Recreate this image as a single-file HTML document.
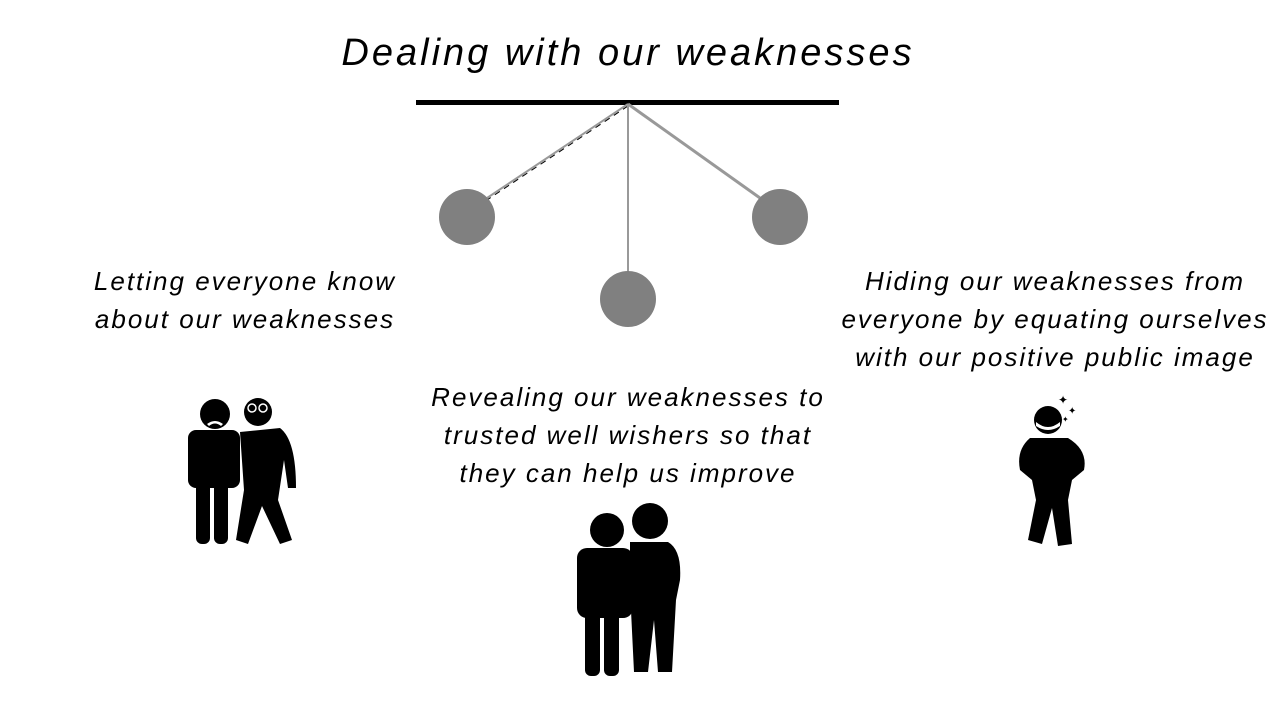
<!DOCTYPE html>
<html><head><meta charset="utf-8"><style>
body{margin:0;width:1280px;height:720px;background:#fff;position:relative;overflow:hidden;font-family:"Liberation Sans",sans-serif;color:#000}
.t{position:absolute;text-align:center;white-space:nowrap;font-style:italic;letter-spacing:2px}
</style></head><body>
<div class="t" style="left:278px;top:32px;width:700px;font-size:38px;letter-spacing:3px">Dealing with our weaknesses</div>
<div class="t" style="left:40px;top:262px;width:410px;font-size:26px;line-height:38px">Letting everyone know<br>about our weaknesses</div>
<div class="t" style="left:398px;top:378px;width:460px;font-size:26px;line-height:38px">Revealing our weaknesses to<br>trusted well wishers so that<br>they can help us improve</div>
<div class="t" style="left:815px;top:262px;width:480px;font-size:26px;line-height:38px">Hiding our weaknesses from<br>everyone by equating ourselves<br>with our positive public image</div>
<svg width="1280" height="720" style="position:absolute;left:0;top:0">
<rect x="416" y="100" width="423" height="5" fill="#000"/>
<line x1="628" y1="104" x2="487" y2="198" stroke="#999" stroke-width="2"/>
<line x1="628" y1="106" x2="487" y2="200" stroke="#000" stroke-width="1" stroke-dasharray="6 5"/>
<line x1="628" y1="104" x2="760" y2="198" stroke="#999" stroke-width="3"/>
<line x1="628" y1="104" x2="628" y2="272" stroke="#999" stroke-width="2"/>
<circle cx="467" cy="217" r="28" fill="#808080"/>
<circle cx="780" cy="217" r="28" fill="#808080"/>
<circle cx="628" cy="299" r="28" fill="#808080"/>
<g fill="#000">
<circle cx="215" cy="414" r="15"/>
<rect x="188" y="430" width="52" height="58" rx="8"/>
<rect x="196" y="480" width="14" height="64" rx="6"/><rect x="214" y="480" width="14" height="64" rx="6"/>
<circle cx="258" cy="412" r="14"/>
<path d="M240 432 L280 428 Q296 440 296 488 L288 488 L284 460 L278 500 L292 540 L280 544 L262 506 L248 544 L236 540 L244 490 Z"/>
<circle cx="607" cy="530" r="17"/>
<rect x="577" y="548" width="56" height="70" rx="10"/>
<rect x="585" y="610" width="15" height="66" rx="6"/><rect x="604" y="610" width="15" height="66" rx="6"/>
<circle cx="650" cy="521" r="18"/>
<path d="M630 542 L668 542 Q682 550 680 580 L676 600 L672 672 L658 672 L654 620 L648 672 L634 672 L630 590 Z"/>
<rect x="622" y="570" width="50" height="12" rx="5"/>
<circle cx="1048" cy="420" r="14"/>
<path d="M1030 438 L1068 438 Q1088 450 1084 470 L1072 480 L1068 500 L1072 544 L1058 546 L1052 508 L1042 544 L1028 540 L1036 500 L1032 480 L1020 470 Q1016 450 1030 438 Z"/>
<text x="1058" y="404" font-size="12">✦</text><text x="1068" y="414" font-size="10">✦</text><text x="1062" y="422" font-size="8">✦</text>
</g>
<g fill="#fff">
<path d="M207 424 Q215 418 223 424 L221 426 Q215 421 209 426Z"/>
<circle cx="252" cy="408" r="4" fill="none" stroke="#fff" stroke-width="1.5"/><circle cx="263" cy="408" r="4" fill="none" stroke="#fff" stroke-width="1.5"/>
<path d="M1036 422 Q1048 432 1060 422 L1060 426 Q1048 434 1036 426Z"/>
</g>
</svg>
</body></html>
